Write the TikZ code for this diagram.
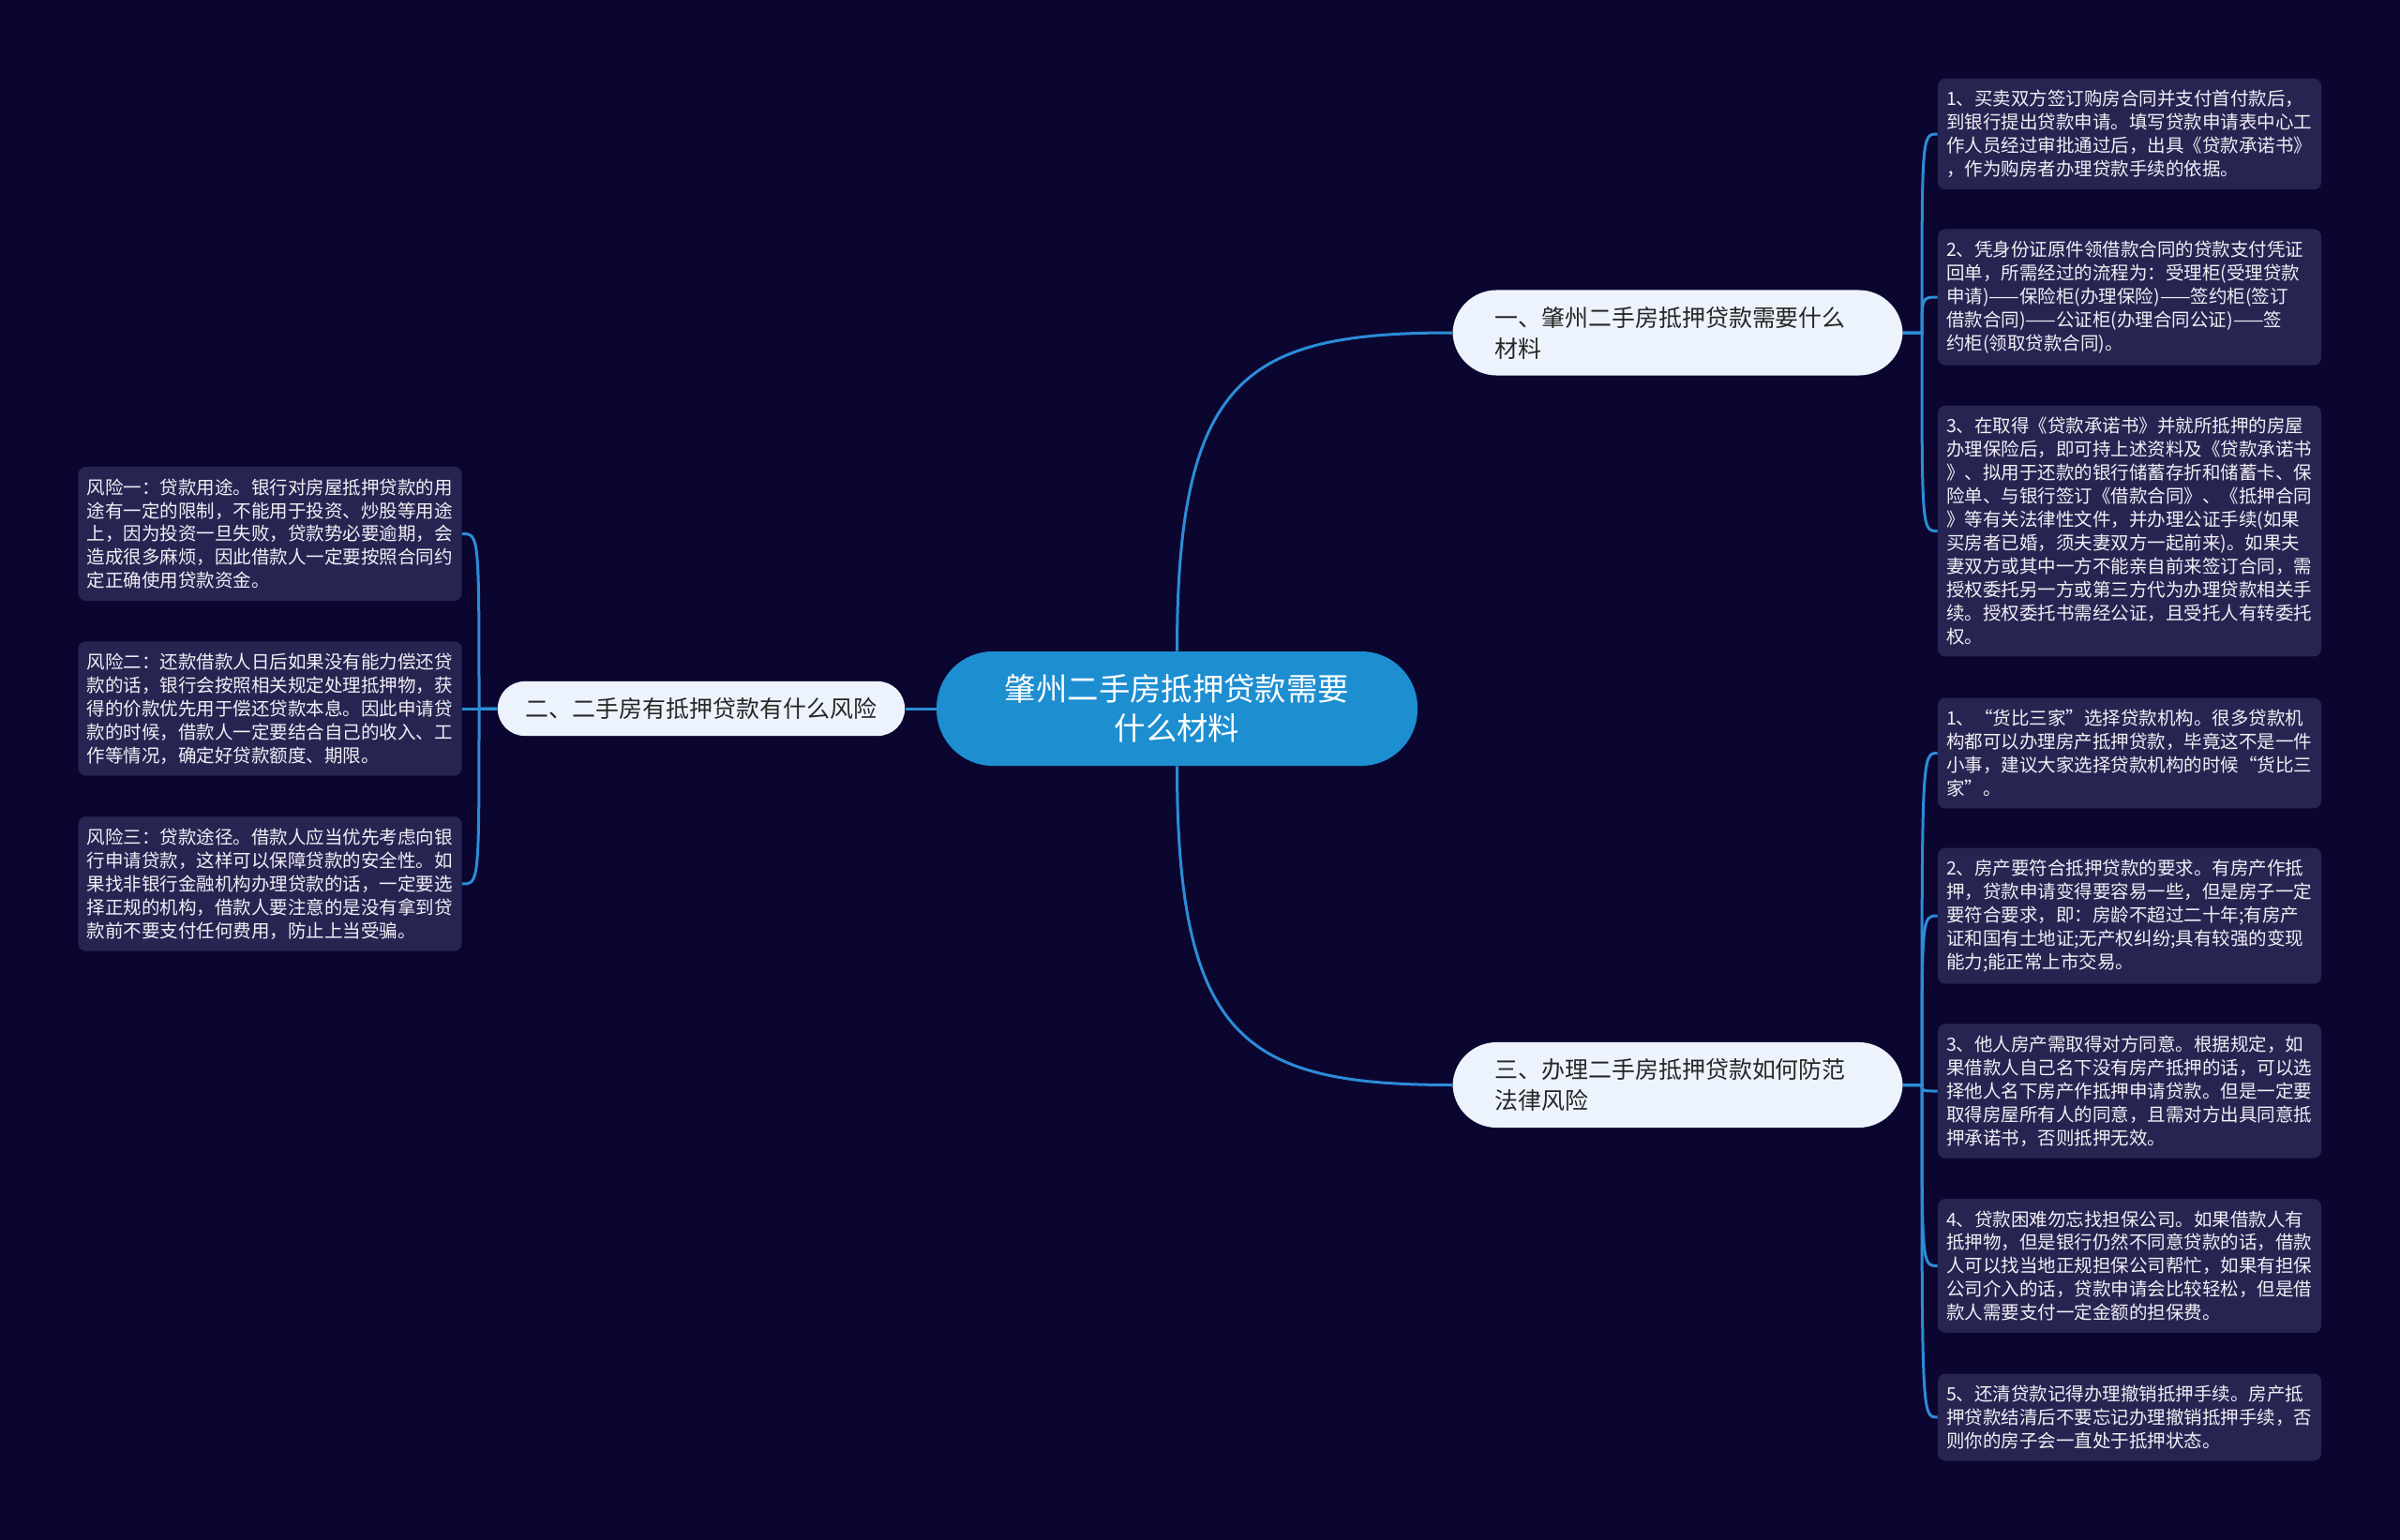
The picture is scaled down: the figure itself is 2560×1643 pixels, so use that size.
\documentclass[tikz,border=0pt]{standalone}
\usepackage{fontspec}
\setmainfont{Noto Sans CJK SC}
\usepackage{tikz}
\usepackage{xcolor}
\usetikzlibrary{positioning}

\definecolor{bgnavy}{RGB}{11,6,48}
\definecolor{leaffill}{RGB}{40,36,82}
\definecolor{rootblue}{RGB}{29,142,208}
\definecolor{branchfill}{RGB}{237,243,252}
\definecolor{linkblue}{RGB}{44,140,215}
\definecolor{darktext}{RGB}{38,38,38}
\definecolor{leaftext}{RGB}{240,240,245}

\begin{document}
\begin{tikzpicture}[
  x=0.2mm, y=-0.2mm,
  rootbox/.style={fill=rootblue, text=white, rounded corners=12mm, align=center,
    minimum width=102.6mm, minimum height=24.4mm, inner sep=0pt,
    font=\fontsize{19}{23.9}\selectfont},
  branchbox/.style={fill=branchfill, text=darktext, align=left, inner ysep=3.5mm,
    font=\fontsize{14.2}{18.8}\selectfont},
  leafbox/.style={fill=leaffill, text=leaftext, rounded corners=1.6mm, align=left,
    text width=78.2mm, inner xsep=1.8mm, inner ysep=2.5mm,
    font=\fontsize{11.1}{14.2}\selectfont},
  linkline/.style={draw=linkblue, line width=0.6mm}
]
  \fill[bgnavy] (0,0) rectangle (2560,1643);

  % centre and main branches
  \node[rootbox] (root) at (1255.5,756) {肇州二手房抵押贷款需要\\什么材料};
  \node[branchbox, text width=78mm, inner xsep=9mm, rounded corners=9.4mm] (br1) at (1789.5,355)
    {一、肇州二手房抵押贷款需要什么\\材料};
  \node[branchbox, inner xsep=6mm, rounded corners=5.8mm] (br2) at (748,756)
    {二、二手房有抵押贷款有什么风险};
  \node[branchbox, text width=78mm, inner xsep=9mm, rounded corners=9.4mm] (br3) at (1789.5,1157.5)
    {三、办理二手房抵押贷款如何防范\\法律风险};
  \draw[linkline] (root.north) .. controls (1255.5,400) and (1330,355) .. (br1.west);
  \draw[linkline] (root.south) .. controls (1255.5,1112) and (1330,1157.5) .. (br3.west);
  \draw[linkline] (root.west) -- (br2.east);

  % materials
  \node[leafbox] (a1) at (2271.5,143) {1、买卖双方签订购房合同并支付首付款后，\\到银行提出贷款申请。填写贷款申请表中心工\\作人员经过审批通过后，出具《贷款承诺书》\\，作为购房者办理贷款手续的依据。};
  \node[leafbox] (a2) at (2271.5,317) {2、凭身份证原件领借款合同的贷款支付凭证\\回单，所需经过的流程为：受理柜(受理贷款\\申请)——保险柜(办理保险)——签约柜(签订\\借款合同)——公证柜(办理合同公证)——签\\约柜(领取贷款合同)。};
  \node[leafbox] (a3) at (2271.5,566.5) {3、在取得《贷款承诺书》并就所抵押的房屋\\办理保险后，即可持上述资料及《贷款承诺书\\》、拟用于还款的银行储蓄存折和储蓄卡、保\\险单、与银行签订《借款合同》、《抵押合同\\》等有关法律性文件，并办理公证手续(如果\\买房者已婚，须夫妻双方一起前来)。如果夫\\妻双方或其中一方不能亲自前来签订合同，需\\授权委托另一方或第三方代为办理贷款相关手\\续。授权委托书需经公证，且受托人有转委托\\权。};
  \draw[linkline] (br1.east) -- (2050,355) .. controls (2050,143) .. (a1.west);
  \draw[linkline] (br1.east) -- (2050,355) .. controls (2050,317) .. (a2.west);
  \draw[linkline] (br1.east) -- (2050,355) .. controls (2050,566.5) .. (a3.west);

  % risks
  \node[leafbox] (r1) at (288,569.5) {风险一：贷款用途。银行对房屋抵押贷款的用\\途有一定的限制，不能用于投资、炒股等用途\\上，因为投资一旦失败，贷款势必要逾期，会\\造成很多麻烦，因此借款人一定要按照合同约\\定正确使用贷款资金。};
  \node[leafbox] (r2) at (288,756) {风险二：还款借款人日后如果没有能力偿还贷\\款的话，银行会按照相关规定处理抵押物，获\\得的价款优先用于偿还贷款本息。因此申请贷\\款的时候，借款人一定要结合自己的收入、工\\作等情况，确定好贷款额度、期限。};
  \node[leafbox] (r3) at (288,943) {风险三：贷款途径。借款人应当优先考虑向银\\行申请贷款，这样可以保障贷款的安全性。如\\果找非银行金融机构办理贷款的话，一定要选\\择正规的机构，借款人要注意的是没有拿到贷\\款前不要支付任何费用，防止上当受骗。};
  \draw[linkline] (br2.west) -- (511,756) .. controls (511,569.5) .. (r1.east);
  \draw[linkline] (br2.west) -- (r2.east);
  \draw[linkline] (br2.west) -- (511,756) .. controls (511,943) .. (r3.east);

  % legal risks
  \node[leafbox] (c1) at (2271.5,803.5) {1、“货比三家”选择贷款机构。很多贷款机\\构都可以办理房产抵押贷款，毕竟这不是一件\\小事，建议大家选择贷款机构的时候“货比三\\家”。};
  \node[leafbox] (c2) at (2271.5,977) {2、房产要符合抵押贷款的要求。有房产作抵\\押，贷款申请变得要容易一些，但是房子一定\\要符合要求，即：房龄不超过二十年;有房产\\证和国有土地证;无产权纠纷;具有较强的变现\\能力;能正常上市交易。};
  \node[leafbox] (c3) at (2271.5,1164) {3、他人房产需取得对方同意。根据规定，如\\果借款人自己名下没有房产抵押的话，可以选\\择他人名下房产作抵押申请贷款。但是一定要\\取得房屋所有人的同意，且需对方出具同意抵\\押承诺书，否则抵押无效。};
  \node[leafbox] (c4) at (2271.5,1350.5) {4、贷款困难勿忘找担保公司。如果借款人有\\抵押物，但是银行仍然不同意贷款的话，借款\\人可以找当地正规担保公司帮忙，如果有担保\\公司介入的话，贷款申请会比较轻松，但是借\\款人需要支付一定金额的担保费。};
  \node[leafbox] (c5) at (2271.5,1512) {5、还清贷款记得办理撤销抵押手续。房产抵\\押贷款结清后不要忘记办理撤销抵押手续，否\\则你的房子会一直处于抵押状态。};
  \draw[linkline] (br3.east) -- (2050,1157.5) .. controls (2050,803.5) .. (c1.west);
  \draw[linkline] (br3.east) -- (2050,1157.5) .. controls (2050,977) .. (c2.west);
  \draw[linkline] (br3.east) -- (2050,1157.5) .. controls (2050,1164) .. (c3.west);
  \draw[linkline] (br3.east) -- (2050,1157.5) .. controls (2050,1350.5) .. (c4.west);
  \draw[linkline] (br3.east) -- (2050,1157.5) .. controls (2050,1512) .. (c5.west);
\end{tikzpicture}
\end{document}
